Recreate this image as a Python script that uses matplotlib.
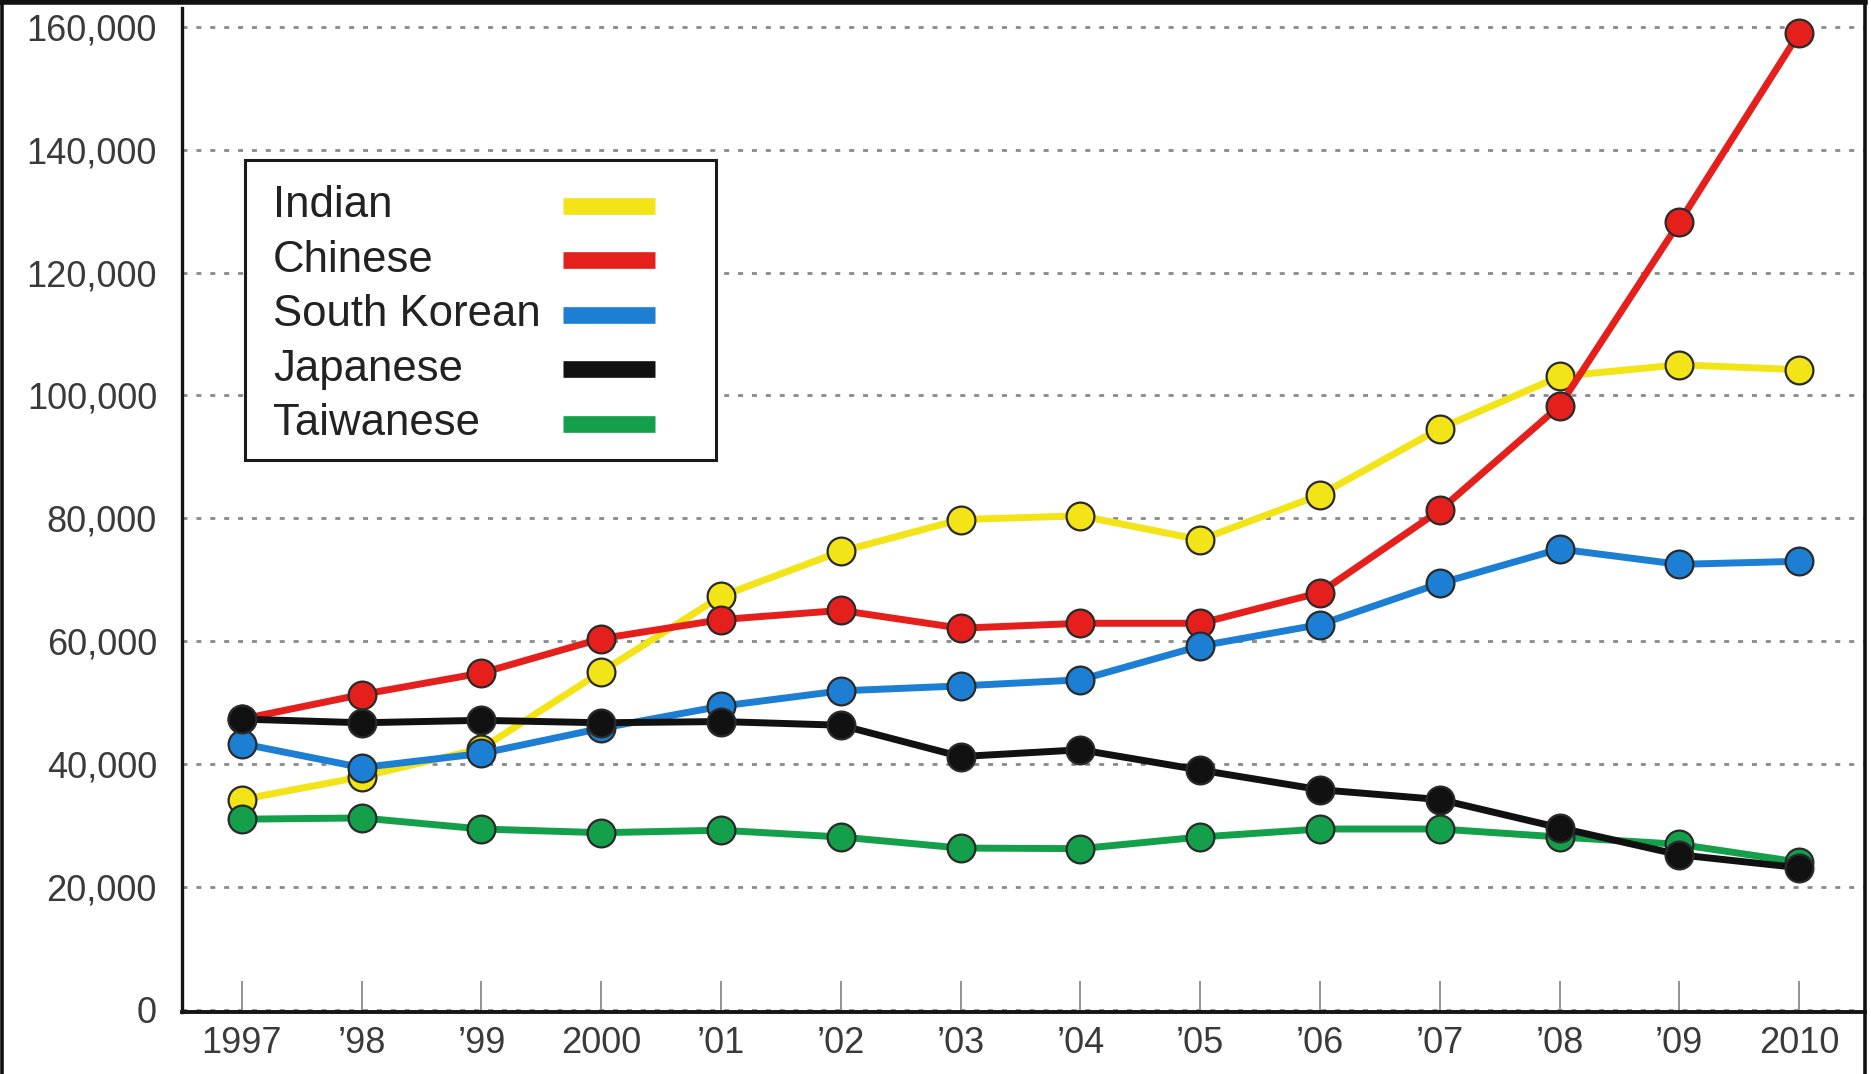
import matplotlib
matplotlib.use('Agg')
import matplotlib.pyplot as plt
from matplotlib.lines import Line2D
from matplotlib.patches import Rectangle
from matplotlib.ticker import FuncFormatter

# Students enrolled, by country of origin
years = list(range(1997, 2011))
year_labels = ['1997', '\u201998', '\u201999', '2000', '\u201901', '\u201902', '\u201903',
               '\u201904', '\u201905', '\u201906', '\u201907', '\u201908', '\u201909', '2010']

indian = [34200, 37900, 42500, 55000, 67300, 74600, 79800,
          80400, 76500, 83800, 94600, 103100, 105000, 104200]
chinese = [47300, 51300, 54800, 60400, 63500, 65000, 62100,
           62900, 62900, 67900, 81300, 98300, 128200, 159000]
south_korean = [43300, 39400, 41700, 45800, 49400, 51900, 52700,
                53700, 59200, 62700, 69400, 75000, 72500, 73000]
japanese = [47300, 46700, 47100, 46700, 46900, 46300, 41200,
            42300, 39000, 35800, 34200, 29600, 25200, 23100]
taiwanese = [31000, 31200, 29400, 28800, 29200, 28100, 26300,
             26200, 28100, 29400, 29400, 28100, 26900, 24000]

series_names = ['Indian', 'Chinese', 'South Korean', 'Japanese', 'Taiwanese']
series_values = [indian, chinese, south_korean, japanese, taiwanese]
series_colors = ['#F2E417', '#E5201C', '#1C7FD4', '#111111', '#14A04A']
# drawing order: Japanese on top, Indian at the bottom
series_zorder = [3, 4, 5, 7, 6]

plt.rcParams['font.family'] = ['Liberation Sans', 'DejaVu Sans']

fig = plt.figure(figsize=(18.71, 10.74), dpi=100)
ax = fig.add_axes([182 / 1871, 1 - 1012 / 1074, (1865 - 182) / 1871, (1012 - 8) / 1074])

for name, values, color, zo in zip(series_names, series_values, series_colors, series_zorder):
    ax.plot(years, values, color=color, lw=5, marker='o', ms=20,
            mfc=color, mec='#2a2a2a', mew=1.6, zorder=zo, label=name)

ax.set_xlim(1996.5, 2010.55)
ax.set_ylim(-400, 163100)
ax.set_yticks(range(0, 160001, 20000))
ax.yaxis.set_major_formatter(FuncFormatter(lambda v, p: '{:,.0f}'.format(v)))
ax.set_xticks(years)
ax.set_xticklabels(year_labels)

ax.yaxis.grid(True, color='#8a8a8a', lw=2, linestyle=(0, (1.8, 3.2)))
ax.set_axisbelow(True)

ax.tick_params(axis='y', length=0, pad=18, labelsize=26, labelcolor='#3a3a3a')
ax.tick_params(axis='x', direction='in', length=22, width=1.3, color='#8a8a8a',
               pad=10, labelsize=26, labelcolor='#3a3a3a')

for side in ['top', 'right']:
    ax.spines[side].set_visible(False)
ax.spines['left'].set_linewidth(2.4)
ax.spines['left'].set_color('#151515')
ax.spines['bottom'].set_linewidth(2.8)
ax.spines['bottom'].set_color('#151515')

# legend box: labels on the left, colour bars on the right
box_left, box_right, box_bottom, box_top = 0.0374, 0.3173, 0.5498, 0.8486
ax.add_patch(Rectangle((box_left, box_bottom), box_right - box_left, box_top - box_bottom,
                       transform=ax.transAxes, facecolor='white', edgecolor='#1a1a1a',
                       lw=2.2, zorder=10, clip_on=False))
row_y0, row_step = 0.8030, 0.0543
for i, (name, color) in enumerate(zip(series_names, series_colors)):
    y = row_y0 - i * row_step
    ax.text(0.0541, y, name, transform=ax.transAxes, fontsize=31.5, color='#222222',
            ha='left', va='center', zorder=11)
    ax.add_line(Line2D([0.2264, 0.2810], [y, y], transform=ax.transAxes, color=color,
                       lw=12, solid_capstyle='butt', zorder=11, clip_on=False))

# outer frame on left, top and right
frame_kw = dict(transform=fig.transFigure, color='#111111', lw=2.6)
fig.add_artist(Line2D([1.5 / 1871, 1.5 / 1871], [0, 1], **frame_kw))
fig.add_artist(Line2D([0, 1865 / 1871], [1 - 2 / 1074, 1 - 2 / 1074], lw=4,
                      transform=fig.transFigure, color='#111111'))
fig.add_artist(Line2D([1865 / 1871, 1865 / 1871], [0, 1], **frame_kw))

fig.savefig('out.png', dpi=100)
plt.close()
